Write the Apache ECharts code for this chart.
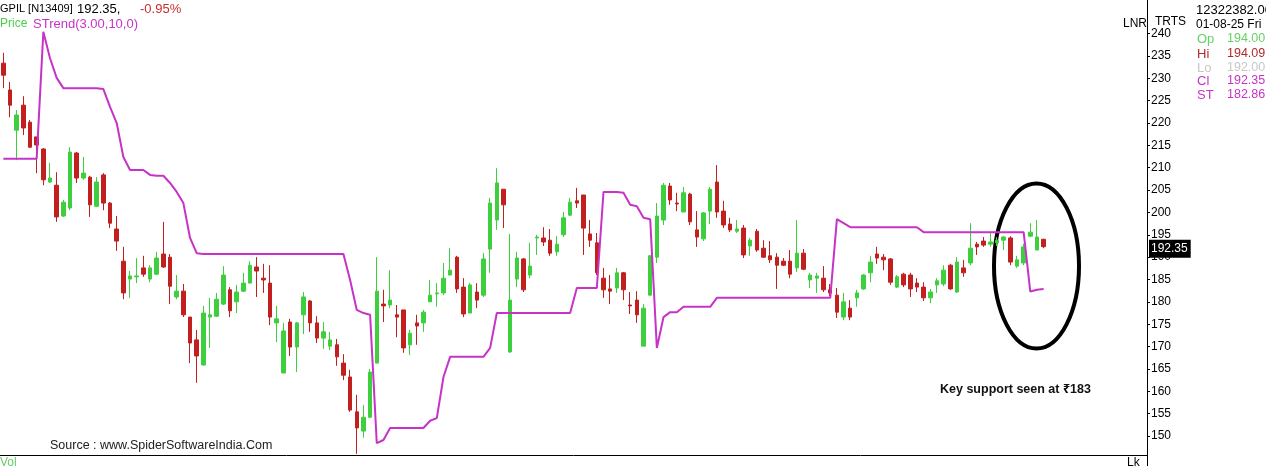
<!DOCTYPE html>
<html>
<head>
<meta charset="utf-8">
<script src="https://cdn.jsdelivr.net/npm/echarts@6.0.0/dist/echarts.min.js"></script>
<style>
  html, body { margin: 0; padding: 0; background: #fff; }
  #chart { width: 1266px; height: 466px; }
</style>
</head>
<body>
<div id="chart"></div>
<script>
// GPIL daily candles (oldest first)
const opens = [233.4, 227.4, 218.4, 224.0, 220.2, 216.9, 214.2, 206.8, 206.1, 199.2,
  201.0, 213.3, 207.7, 207.9, 201.4, 208.4, 202.1, 196.3, 189.1, 185.1,
  185.6, 187.6, 185.1, 186.2, 190.7, 190.0, 181.1, 182.4, 176.6, 171.5,
  165.9, 176.6, 176.8, 179.5, 182.7, 180.0, 182.4, 184.2, 187.8, 185.3,
  184.2, 175.3, 164.1, 175.5, 169.9, 177.1, 180.2, 175.3, 171.9, 170.1,
  170.4, 166.3, 163.2, 155.4, 151.1, 154.2, 166.3, 179.5, 179.3, 177.1,
  178.2, 170.4, 175.3, 175.3, 180.0, 181.8, 182.0, 186.0, 190.0, 183.3,
  177.5, 182.2, 181.5, 191.8, 198.3, 205.2, 168.8, 185.1, 189.6, 186.0,
  194.3, 194.3, 193.8, 191.2, 195.0, 199.4, 202.6, 203.9, 195.2, 193.2,
  185.3, 182.9, 183.1, 186.5, 179.3, 180.4, 170.1, 181.5, 190.0, 198.3,
  205.9, 202.1, 200.1, 204.1, 196.1, 194.1, 200.3, 206.8, 200.3, 197.4,
  195.8, 196.5, 192.5, 195.8, 192.0, 190.3, 190.0, 189.1, 189.1, 187.6,
  190.9, 184.9, 185.3, 185.3, 182.7, 181.5, 176.6, 178.6, 180.9, 182.9,
  186.5, 190.7, 190.0, 189.6, 183.3, 186.2, 186.0, 184.2, 183.3, 180.9,
  183.8, 184.0, 188.2, 182.2, 187.6, 188.7, 192.9, 193.6, 192.9, 193.2,
  193.8, 194.3, 188.0, 188.7, 194.7, 191.6, 194.00]
const closes = [230.7, 224.0, 221.8, 218.9, 214.6, 215.1, 207.3, 207.7, 199.0, 202.3,
  213.5, 207.7, 208.8, 201.7, 206.8, 202.1, 197.6, 193.6, 182.0, 185.8,
  185.8, 186.2, 187.6, 189.8, 187.8, 183.5, 182.4, 177.1, 170.8, 167.9,
  177.5, 177.1, 180.6, 186.0, 178.0, 182.2, 184.2, 188.2, 186.9, 184.9,
  176.6, 176.2, 173.5, 169.9, 175.3, 181.1, 175.3, 171.9, 173.3, 171.5,
  167.7, 163.6, 155.8, 151.8, 154.2, 164.3, 182.4, 179.1, 180.4, 176.6,
  169.7, 173.0, 174.6, 177.7, 181.5, 182.0, 185.3, 187.1, 182.9, 177.3,
  183.8, 180.4, 189.6, 202.1, 206.6, 201.7, 180.4, 189.8, 182.7, 188.0,
  194.5, 193.4, 190.9, 192.9, 198.8, 202.3, 202.1, 196.5, 193.8, 186.5,
  182.7, 182.4, 186.5, 182.7, 179.1, 177.1, 178.6, 190.3, 199.2, 206.1,
  202.8, 201.9, 204.4, 197.9, 194.5, 199.9, 205.2, 200.1, 197.2, 196.1,
  196.3, 190.5, 193.8, 191.6, 190.0, 189.4, 188.2, 188.2, 186.2, 190.9,
  187.3, 186.0, 185.8, 182.7, 182.0, 177.7, 180.0, 176.6, 182.0, 186.0,
  188.9, 189.8, 189.4, 184.4, 185.6, 183.8, 182.9, 183.3, 180.9, 182.2,
  184.7, 187.1, 182.9, 188.9, 186.5, 192.0, 192.3, 192.7, 193.4, 193.8,
  194.5, 188.9, 189.4, 192.3, 195.6, 194.5, 192.35]
const lows = [227.8, 221.3, 211.7, 217.3, 214.4, 208.8, 206.1, 206.6, 197.9, 199.0,
  200.5, 206.6, 207.3, 199.0, 201.2, 200.5, 196.5, 191.4, 180.6, 180.9,
  184.2, 185.6, 184.4, 186.0, 187.6, 179.5, 180.6, 176.6, 166.3, 161.9,
  165.7, 169.7, 176.6, 179.3, 176.6, 177.5, 182.2, 184.2, 181.1, 182.0,
  174.8, 171.0, 164.1, 167.9, 164.3, 172.8, 173.3, 170.8, 169.5, 169.2,
  165.7, 162.5, 155.4, 146.0, 149.6, 154.0, 166.3, 175.5, 178.6, 172.1,
  168.6, 168.1, 170.4, 173.3, 180.0, 178.9, 181.5, 186.0, 182.0, 176.6,
  177.5, 178.6, 181.1, 186.5, 196.1, 196.5, 168.6, 183.3, 182.2, 185.3,
  190.5, 192.5, 190.3, 190.3, 194.5, 199.2, 201.0, 190.5, 192.3, 186.0,
  180.9, 179.5, 182.0, 180.4, 177.3, 175.3, 170.1, 181.5, 188.7, 197.2,
  201.7, 200.3, 200.1, 197.2, 192.3, 193.6, 197.4, 198.8, 196.5, 195.6,
  195.4, 189.8, 190.3, 191.2, 189.8, 188.7, 182.9, 188.0, 185.3, 186.7,
  187.1, 183.1, 182.0, 182.2, 181.3, 176.4, 175.9, 175.9, 178.9, 182.7,
  184.4, 188.5, 187.1, 183.8, 183.1, 183.3, 181.1, 182.2, 180.2, 179.7,
  182.0, 183.5, 182.7, 182.0, 185.6, 188.2, 190.5, 192.3, 192.3, 192.5,
  191.6, 188.2, 187.6, 188.2, 194.5, 191.6, 192.00]
const highs = [235.7, 229.2, 222.9, 226.0, 220.7, 216.9, 214.4, 211.1, 209.0, 202.8,
  214.6, 213.5, 212.4, 208.2, 207.9, 208.8, 202.3, 199.2, 192.3, 186.9,
  189.8, 190.3, 188.2, 191.2, 197.9, 190.7, 186.0, 184.0, 176.6, 173.7,
  179.1, 180.9, 182.0, 188.0, 183.3, 183.8, 186.5, 189.1, 190.0, 188.5,
  188.2, 179.1, 175.3, 176.2, 175.5, 182.2, 180.4, 176.8, 175.5, 173.3,
  171.7, 168.3, 164.8, 159.2, 156.9, 165.0, 190.0, 182.7, 187.1, 179.3,
  178.2, 173.7, 177.1, 178.2, 184.9, 184.2, 188.7, 192.0, 190.3, 185.3,
  184.2, 184.2, 190.9, 203.2, 209.9, 205.2, 195.2, 191.2, 189.8, 193.2,
  195.0, 196.7, 196.3, 194.7, 200.1, 203.2, 205.5, 203.9, 198.3, 195.4,
  187.6, 186.0, 187.6, 186.7, 182.2, 182.4, 179.5, 190.5, 202.1, 206.6,
  206.6, 204.4, 205.7, 204.4, 200.3, 200.1, 205.7, 210.6, 202.6, 198.8,
  198.3, 197.2, 194.3, 196.3, 193.8, 193.6, 190.9, 189.8, 191.6, 198.3,
  191.8, 186.5, 186.5, 188.0, 184.0, 183.1, 182.0, 180.4, 182.7, 186.2,
  190.3, 192.3, 190.7, 189.8, 186.0, 186.5, 186.5, 185.3, 184.4, 182.9,
  185.3, 188.2, 188.5, 190.0, 189.4, 197.6, 193.4, 194.5, 195.4, 194.5,
  194.7, 194.7, 190.3, 193.0, 197.6, 198.3, 194.09]

// SuperTrend(3.00,10,0)
const supertrend = [212.0, 212.0, 212.0, 212.0, 212.0, 212.0, 240.4, 234.5, 230.1, 227.8,
  227.8, 227.8, 227.8, 227.8, 227.8, 227.6, 223.6, 220.0, 212.4, 209.5,
  209.5, 209.5, 208.4, 208.2, 208.2, 206.6, 204.6, 202.1, 194.3, 190.9,
  190.7, 190.7, 190.7, 190.7, 190.7, 190.7, 190.7, 190.7, 190.7, 190.7,
  190.7, 190.7, 190.7, 190.7, 190.7, 190.7, 190.7, 190.7, 190.7, 190.7,
  190.7, 190.7, 184.9, 178.2, 177.5, 177.1, 148.4, 149.1, 151.8, 151.8,
  151.8, 151.8, 151.8, 151.8, 153.4, 154.0, 163.2, 167.7, 167.7, 167.7,
  167.7, 167.7, 167.7, 169.7, 177.5, 177.5, 177.5, 177.5, 177.5, 177.5,
  177.5, 177.5, 177.5, 177.5, 177.5, 177.5, 183.1, 183.1, 183.1, 183.1,
  204.6, 204.6, 204.6, 204.4, 201.7, 201.4, 198.8, 198.5, 169.7, 176.6,
  177.7, 177.7, 178.9, 178.9, 178.9, 178.9, 178.9, 180.9, 180.9, 180.9,
  180.9, 180.9, 180.9, 180.9, 180.9, 180.9, 180.9, 180.9, 180.9, 180.9,
  180.9, 180.9, 180.9, 180.9, 180.9, 198.5, 197.6, 196.7, 196.7, 196.7,
  196.7, 196.7, 196.7, 196.7, 196.7, 196.7, 196.7, 196.7, 195.6, 195.6,
  195.6, 195.6, 195.6, 195.6, 195.6, 195.6, 195.6, 195.6, 195.6, 195.6,
  195.6, 195.6, 195.6, 195.6, 182.3, 182.7, 182.86]

const priceTicks = [150, 155, 160, 165, 170, 175, 180, 185, 190, 195, 200,
  205, 210, 215, 220, 225, 230, 235, 240]
const emptySlots = 15 // blank days to the right of the last candle

const UP = '#3dcf3d'
const DOWN = '#c21f1f'
const ST = '#c633c6'
const FONT = 'Liberation Sans'

const categories = opens.map((_, i) => 'd' + i)
for (let i = 0; i < emptySlots; i++) categories.push('p' + i)
const candleData = opens.map((o, i) => [o, closes[i], lows[i], highs[i]])
const lastClose = closes[closes.length - 1]

const chart = echarts.init(document.getElementById('chart'), null, { renderer: 'canvas' })

const txt = (x, y, text, color, size, bold) => ({
  type: 'text', x, y, silent: true,
  style: {
    text, fill: color, textVerticalAlign: 'middle',
    font: (bold ? 'bold ' : '') + (size || 12) + 'px "' + FONT + '", "Noto Sans", "DejaVu Sans"'
  }
})

chart.setOption({
  animation: false,
  backgroundColor: '#fff',
  grid: { left: 0, right: 119, top: 0, bottom: 11 },
  xAxis: {
    type: 'category',
    data: categories,
    boundaryGap: true,
    axisLine: { onZero: false, lineStyle: { color: '#000', width: 1 } },
    axisTick: { show: false },
    axisLabel: { show: false },
    splitLine: { show: false }
  },
  yAxis: {
    type: 'value',
    position: 'right',
    min: 145.75,
    max: 247.52,
    axisLine: { show: true, lineStyle: { color: '#000', width: 1 } },
    axisTick: { show: true, length: 3, lineStyle: { color: '#000' }, customValues: priceTicks },
    axisLabel: { color: '#000', fontSize: 12, fontFamily: FONT, margin: 4, customValues: priceTicks },
    splitLine: { show: false }
  },
  series: [{
    name: 'Price',
    type: 'candlestick',
    data: candleData,
    barWidth: 4,
    itemStyle: {
      color: UP, color0: DOWN,
      borderColor: UP, borderColor0: DOWN,
      borderWidth: 1
    },
    markLine: {
      silent: true,
      symbol: ['none', 'none'],
      lineStyle: { color: 'rgba(0,0,0,0)', width: 0 },
      label: {
        position: 'end', distance: 2, formatter: lastClose.toFixed(2),
        backgroundColor: '#000', color: '#fff', fontSize: 12, fontFamily: FONT,
        padding: [3, 3, 3, 2], offset: [0, 2]
      },
      data: [{ yAxis: lastClose }]
    }
  }, {
    name: 'STrend',
    type: 'line',
    data: supertrend,
    showSymbol: false,
    z: 3,
    lineStyle: { color: ST, width: 2 },
    itemStyle: { color: ST }
  }],
  graphic: [
    // header
    txt(0, 9, 'GPIL [N13409]', '#000', 11),
    txt(77, 9, '192.35,', '#000', 13),
    txt(140, 9, '-0.95%', '#c8302c', 13),
    txt(0, 24, 'Price', '#4ccf4c', 12),
    txt(33, 24, 'STrend(3.00,10,0)', ST, 13),
    // right info panel
    txt(1123, 24, 'LNR', '#000'),
    txt(1155, 22, 'TRTS', '#000'),
    txt(1196, 10, '12322382.00', '#000', 13),
    txt(1196, 25, '01-08-25 Fri', '#000'),
    txt(1197, 39, 'Op', '#66d266', 13),
    txt(1227, 39, '194.00', '#66d266', 12.5),
    txt(1197, 54, 'Hi', '#b02a2a', 13),
    txt(1227, 54, '194.09', '#b02a2a', 12.5),
    txt(1197, 68, 'Lo', '#c8c8c8', 13),
    txt(1227, 68, '192.00', '#c8c8c8', 12.5),
    txt(1197, 81, 'Cl', ST, 13),
    txt(1227, 81, '192.35', ST, 12.5),
    txt(1197, 95, 'ST', ST, 13),
    txt(1227, 95, '182.86', ST, 12.5),
    // axis line reaches the bottom edge
    { type: 'line', silent: true, shape: { x1: 1147.5, y1: 455, x2: 1147.5, y2: 466 }, style: { stroke: '#000', lineWidth: 1 } },
    // footer
    txt(50, 446, 'Source : www.SpiderSoftwareIndia.Com', '#222', 12.5),
    txt(0, 463, 'Vol', '#66cc66'),
    txt(1127, 463, 'Lk', '#000'),
    // annotation
    { type: 'ellipse', silent: true, shape: { cx: 1036.5, cy: 266, rx: 42.5, ry: 82.5 }, style: { fill: 'none', stroke: '#000', lineWidth: 4 } },
    txt(940, 390, 'Key support seen at ₹183', '#111', 12.5, true)
  ]
})
</script>
</body>
</html>
